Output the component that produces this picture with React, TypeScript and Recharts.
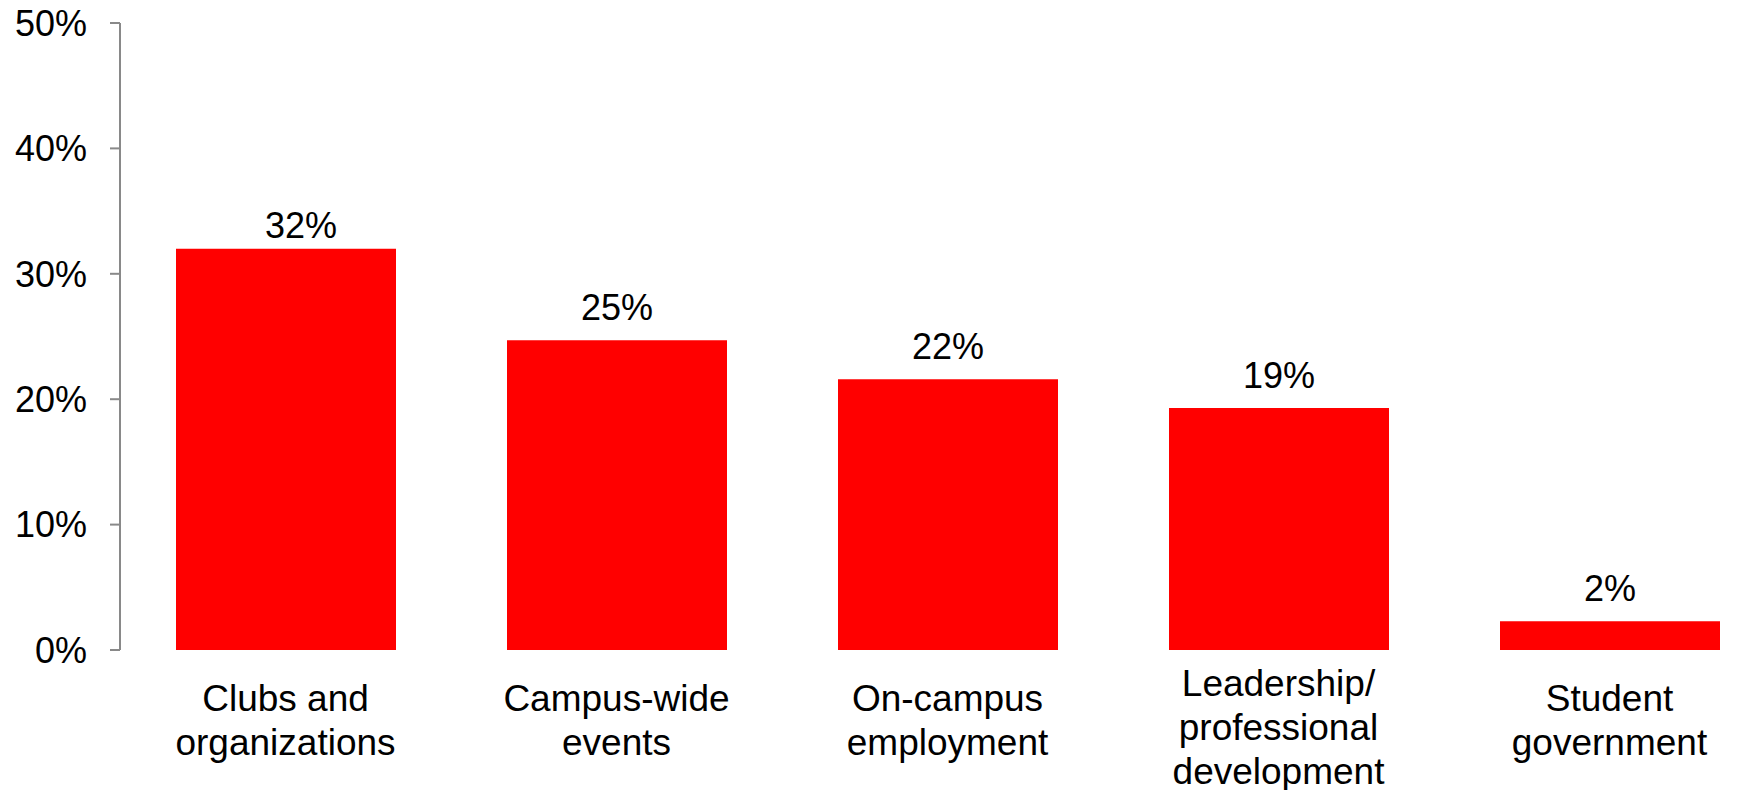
import { Bar, BarChart, LabelList, XAxis, YAxis } from "recharts";

const categories = [
  "Clubs and organizations",
  "Campus-wide events",
  "On-campus employment",
  "Leadership/ professional development",
  "Student government",
];
const categoryLines = [
  ["Clubs and", "organizations"],
  ["Campus-wide", "events"],
  ["On-campus", "employment"],
  ["Leadership/", "professional", "development"],
  ["Student", "government"],
];
const shares = [32.0, 24.7, 21.6, 19.3, 2.3];
const yTicks = [0, 10, 20, 30, 40, 50];

const data = categories.map((name, i) => ({ name, share: shares[i] }));

const FONT = "'Liberation Sans', Arial, sans-serif";

function CategoryTick({ x, y, index }: any) {
  const lines = categoryLines[index] ?? [];
  // three-line label sits a bit higher than the two-line ones
  const firstBaseline = 61 - (lines.length - 2) * 15.5;
  return (
    <text x={x} y={y} textAnchor="middle" fontSize={37} fontFamily={FONT} fill="#000">
      {lines.map((line, i) => (
        <tspan key={i} x={x} y={y + firstBaseline + i * 44}>
          {line}
        </tspan>
      ))}
    </text>
  );
}

// the first label was nudged by hand in the original chart
function ValueLabel(props: any) {
  const { x, y, width, value, index } = props;
  const nudge = index === 0 ? { dx: 15, dy: 9 } : { dx: 0, dy: 0 };
  return (
    <text
      x={Number(x) + Number(width) / 2 + nudge.dx}
      y={Number(y) - 20 + nudge.dy}
      textAnchor="middle"
      fontSize={36}
      fontFamily={FONT}
      fill="#000"
    >
      {`${Math.round(Number(value))}%`}
    </text>
  );
}

export default function App() {
  return (
    <div style={{ position: "absolute", left: 0, top: 0, width: 1737, height: 790, overflow: "hidden", background: "#fff" }}>
      <BarChart width={1775} height={790} data={data} margin={{ top: 23, right: 0, left: 0, bottom: 0 }}>
        <XAxis
          dataKey="name"
          axisLine={false}
          tickLine={false}
          tickSize={0}
          tickMargin={0}
          height={140}
          interval={0}
          tick={<CategoryTick />}
        />
        <YAxis
          domain={[0, 50]}
          ticks={yTicks}
          width={120}
          tickSize={10}
          tickMargin={23}
          tickFormatter={(v) => `${v}%`}
          axisLine={{ stroke: "#898989", strokeWidth: 2 }}
          tickLine={{ stroke: "#898989", strokeWidth: 2 }}
          tick={{ fontSize: 36, fontFamily: FONT, fill: "#000" }}
        />
        <Bar dataKey="share" fill="#ff0000" barSize={220} isAnimationActive={false}>
          <LabelList dataKey="share" content={<ValueLabel />} />
        </Bar>
      </BarChart>
    </div>
  );
}
